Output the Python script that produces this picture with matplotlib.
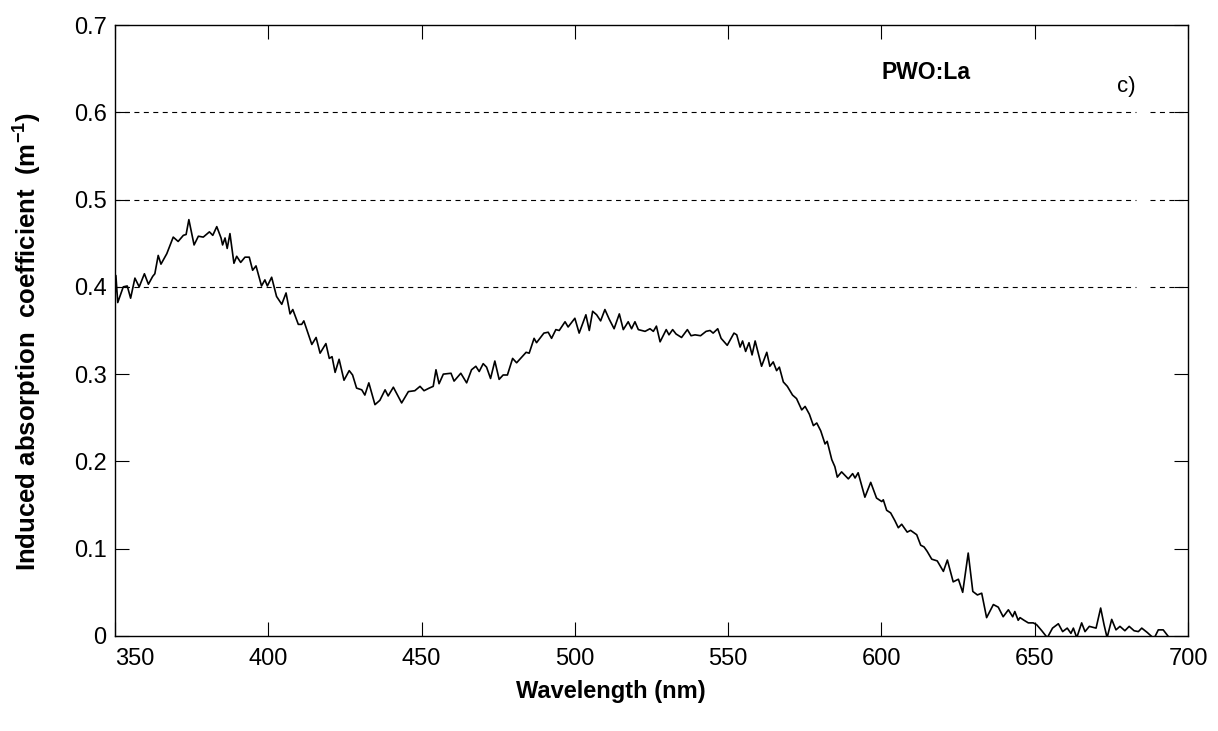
import matplotlib
matplotlib.use('Agg')
import matplotlib.pyplot as plt

# ---- data ----
wavelength = [
    350.0, 350.3, 350.9, 352.7, 354.0, 355.1, 356.5, 357.9, 359.6, 360.9,
    362.3, 363.0, 364.1, 365.0, 366.9, 369.0, 370.6, 372.3, 373.2, 374.1,
    375.8, 377.2, 378.8, 380.8, 381.9, 383.2, 384.6, 385.1, 385.9, 386.6,
    387.5, 388.8, 389.7, 391.0, 392.4, 393.8, 394.9, 396.0, 397.8, 398.9,
    399.7, 401.1, 402.7, 404.4, 405.8, 407.1, 408.0, 409.8, 410.9, 411.6,
    414.2, 415.6, 416.9, 418.8, 419.9, 420.8, 421.8, 423.1, 424.7, 426.4,
    427.5, 428.8, 430.5, 431.5, 432.8, 434.8, 436.4, 438.1, 439.1, 440.8,
    443.5, 445.7, 447.8, 449.5, 450.8, 452.5, 453.8, 454.7, 455.7, 457.1,
    459.6, 460.6, 462.8, 464.7, 466.3, 467.7, 468.8, 470.1, 471.2, 472.5,
    473.9, 475.3, 476.6, 478.0, 479.7, 481.0, 484.1, 485.1, 486.7, 487.5,
    489.9, 491.3, 492.4, 493.8, 494.9, 496.8, 497.8, 500.0, 501.4, 503.6,
    504.7, 505.8, 507.1, 508.4, 509.8, 511.2, 512.8, 514.5, 515.8, 517.4,
    518.5, 519.6, 520.7, 522.9, 524.5, 525.6, 526.6, 527.8, 529.8, 530.7,
    531.9, 533.0, 534.8, 536.7, 537.9, 539.2, 541.0, 542.8, 544.1, 545.1,
    546.6, 547.7, 549.7, 551.9, 552.8, 553.9, 554.7, 555.7, 556.8, 557.8,
    558.8, 560.9, 562.6, 563.6, 564.7, 565.8, 566.7, 568.0, 569.3, 571.0,
    572.3, 574.0, 575.1, 576.5, 577.8, 578.9, 580.2, 581.6, 582.3, 583.8,
    584.8, 585.6, 587.0, 589.2, 590.6, 591.4, 592.4, 594.6, 596.5, 598.4,
    600.1, 600.6, 601.7, 603.0, 604.4, 605.5, 606.6, 608.4, 609.5, 611.5,
    612.8, 613.9, 614.9, 616.4, 618.2, 620.2, 621.5, 623.4, 625.1, 626.5,
    628.3, 629.8, 631.3, 632.7, 634.3, 636.5, 638.1, 639.7, 641.4, 642.8,
    643.5, 644.6, 645.2, 646.5, 647.9, 649.5, 650.6, 652.3, 654.1, 655.8,
    657.7, 659.1, 660.6, 661.8, 662.6, 663.7, 665.3, 666.4, 667.8, 670.0,
    671.5, 672.6, 673.6, 675.1, 676.5, 677.8, 679.4, 680.8, 682.4, 683.8,
    684.9, 686.7, 688.9, 690.3, 691.9, 693.0, 694.1, 696.7,
]
absorption = [
    0.385, 0.413, 0.382, 0.400, 0.401, 0.387, 0.410, 0.400, 0.415, 0.403,
    0.412, 0.415, 0.436, 0.426, 0.438, 0.457, 0.452, 0.459, 0.460, 0.477,
    0.448, 0.458, 0.457, 0.463, 0.459, 0.469, 0.456, 0.448, 0.456, 0.444,
    0.461, 0.427, 0.435, 0.428, 0.434, 0.434, 0.419, 0.424, 0.401, 0.408,
    0.401, 0.411, 0.389, 0.380, 0.393, 0.369, 0.374, 0.357, 0.357, 0.361,
    0.334, 0.342, 0.324, 0.335, 0.318, 0.320, 0.302, 0.317, 0.293, 0.304,
    0.299, 0.284, 0.282, 0.276, 0.290, 0.265, 0.270, 0.282, 0.275, 0.285,
    0.267, 0.280, 0.281, 0.286, 0.281, 0.284, 0.286, 0.305, 0.289, 0.300,
    0.301, 0.292, 0.301, 0.290, 0.305, 0.309, 0.303, 0.312, 0.308, 0.295,
    0.315, 0.294, 0.299, 0.299, 0.318, 0.313, 0.325, 0.324, 0.341, 0.336,
    0.347, 0.348, 0.341, 0.351, 0.350, 0.360, 0.354, 0.364, 0.347, 0.368,
    0.350, 0.372, 0.368, 0.361, 0.374, 0.363, 0.352, 0.369, 0.351, 0.360,
    0.352, 0.360, 0.351, 0.349, 0.352, 0.349, 0.355, 0.337, 0.351, 0.345,
    0.351, 0.346, 0.342, 0.351, 0.344, 0.345, 0.344, 0.349, 0.350, 0.347,
    0.352, 0.341, 0.333, 0.347, 0.345, 0.331, 0.338, 0.326, 0.336, 0.322,
    0.338, 0.309, 0.325, 0.309, 0.314, 0.304, 0.308, 0.291, 0.286, 0.276,
    0.272, 0.259, 0.263, 0.254, 0.241, 0.244, 0.235, 0.220, 0.223, 0.202,
    0.194, 0.182, 0.188, 0.180, 0.186, 0.181, 0.187, 0.159, 0.176, 0.158,
    0.154, 0.156, 0.144, 0.141, 0.132, 0.124, 0.128, 0.119, 0.121, 0.116,
    0.104, 0.102, 0.097, 0.088, 0.086, 0.074, 0.087, 0.062, 0.065, 0.050,
    0.095, 0.051, 0.047, 0.049, 0.021, 0.036, 0.033, 0.022, 0.030, 0.022,
    0.028, 0.018, 0.021, 0.018, 0.015, 0.015, 0.013, 0.006, -0.002, 0.009,
    0.014, 0.005, 0.009, 0.003, 0.009, -0.002, 0.015, 0.005, 0.011, 0.009,
    0.032, 0.013, -0.002, 0.019, 0.007, 0.011, 0.006, 0.011, 0.006, 0.005,
    0.009, 0.004, -0.003, 0.007, 0.007, 0.002, -0.003, -0.003,
]
x_ticks = [350, 400, 450, 500, 550, 600, 650, 700]
x_tick_labels = ['350', '400', '450', '500', '550', '600', '650', '700']
y_ticks = [0, 0.1, 0.2, 0.3, 0.4, 0.5, 0.6, 0.7]
y_tick_labels = ['0', '0.1', '0.2', '0.3', '0.4', '0.5', '0.6', '0.7']
grid_levels = [0.4, 0.5, 0.6]

sample_label = 'PWO:La'
panel_label = 'c)'
x_label = 'Wavelength (nm)'
y_label = 'Induced absorption  coefficient  (m$^{-1}$)'

# ---- style ----
plt.rcParams['font.family'] = ['Liberation Sans', 'DejaVu Sans']
plt.rcParams['mathtext.fontset'] = 'custom'
plt.rcParams['mathtext.rm'] = 'Liberation Sans'
plt.rcParams['mathtext.bf'] = 'Liberation Sans:bold'
plt.rcParams['mathtext.default'] = 'bf'

fig = plt.figure(figsize=(12.18, 7.31), dpi=100)
ax = fig.add_axes([0.0944, 0.1300, 0.8810, 0.8358])

for lvl in grid_levels:
    ax.hlines(lvl, 350, 683, colors='black', linewidth=0.8,
              linestyles=(0, (4.5, 4)), zorder=1)
    ax.hlines(lvl, 687.5, 700, colors='black', linewidth=0.8,
              linestyles=(0, (4.5, 4)), zorder=1)

ax.plot(wavelength, absorption, color='black', linewidth=1.2, zorder=3)

ax.set_xlim(350, 700)
ax.set_ylim(0, 0.7)
ax.set_xticks(x_ticks)
ax.set_xticklabels(x_tick_labels)
ax.set_yticks(y_ticks)
ax.set_yticklabels(y_tick_labels)
ax.tick_params(axis='both', which='major', direction='in', length=10,
               width=0.8, top=True, right=True, labelsize=17,
               colors='black')
ax.tick_params(axis='x', pad=8.5)
ax.tick_params(axis='y', pad=6)
xtl = ax.get_xticklabels()
xtl[0].set_horizontalalignment('left')

for sp in ax.spines.values():
    sp.set_linewidth(1.0)
    sp.set_color('black')

ax.set_xlabel(x_label, fontsize=17, fontweight='bold')
ax.xaxis.set_label_coords(0.462, -0.072)
ax.set_ylabel(y_label, fontsize=18.5, fontweight='bold')
ax.yaxis.set_label_coords(-0.066, 0.481)

ax.text(600.1, 0.646, sample_label, fontsize=16.5, fontweight='bold',
        ha='left', va='center')
ax.text(676.7, 0.629, panel_label, fontsize=16, ha='left', va='center')

fig.savefig('out.png', dpi=100)
